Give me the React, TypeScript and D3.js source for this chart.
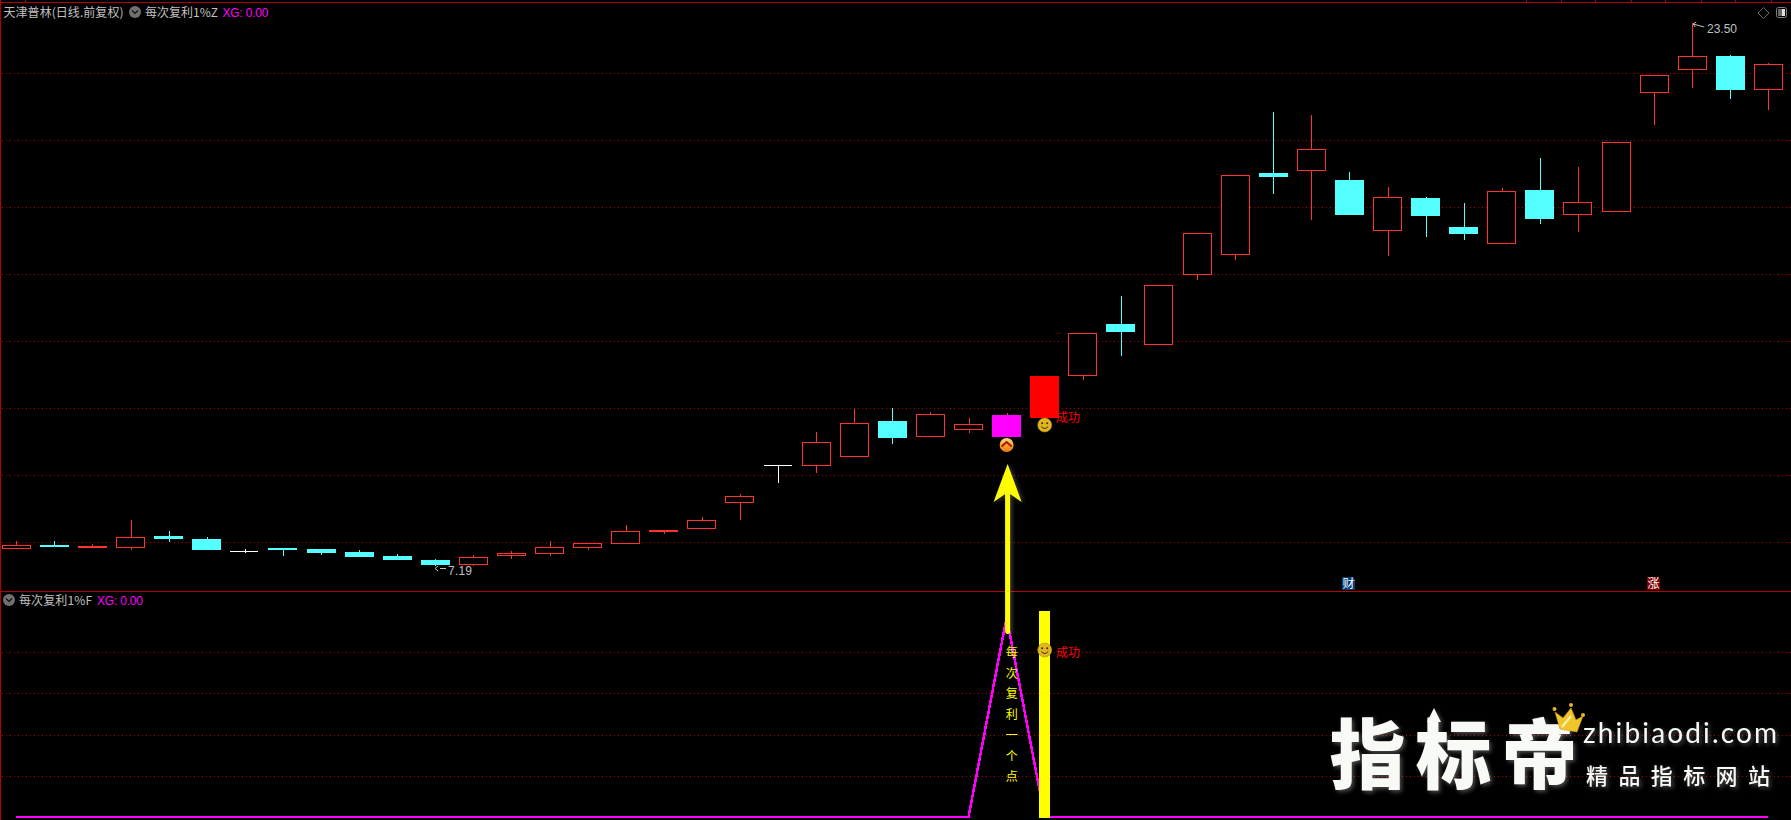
import React from "react";
import * as d3 from "d3";

const W = 1791;
const H = 820;
const CJK = '"Noto Sans CJK SC", "Noto Sans", sans-serif';
const LATIN = '"Liberation Sans", sans-serif';

// Daily bars
const opens = [7.70,7.81,7.72,7.73,8.08,7.99,7.62,7.72,7.69,7.60,7.48,7.36,7.20,7.48,7.55,7.73,7.85,8.20,8.30,9.08,10.20,10.19,10.46,11.54,11.06,11.28,11.06,11.63,12.90,14.45,13.83,15.94,16.54,19.00,19.07,18.79,17.26,18.24,17.37,16.87,18.49,17.73,17.81,21.41,22.10,22.52,21.50];
const closes = [7.81,7.75,7.78,8.04,7.99,7.66,7.62,7.66,7.57,7.45,7.36,7.20,7.45,7.57,7.74,7.86,8.22,8.26,8.55,9.27,10.20,10.90,11.47,11.03,11.74,11.44,11.72,12.89,14.18,14.21,15.62,17.18,18.93,18.88,19.71,17.73,18.27,17.70,17.16,18.45,17.61,18.12,19.93,21.94,22.51,21.49,22.27];
const highs = [7.93,7.93,7.84,8.56,8.23,8.05,7.69,7.72,7.69,7.66,7.54,7.39,7.51,7.63,7.92,7.86,8.41,8.26,8.65,9.34,10.20,11.21,11.90,11.93,11.81,11.63,11.78,12.89,14.18,15.30,15.62,17.18,18.93,20.83,20.74,19.03,18.58,18.27,18.09,18.55,19.46,19.18,19.93,21.94,23.50,22.55,22.31];
const lows = [7.70,7.75,7.72,7.67,7.90,7.66,7.57,7.48,7.51,7.45,7.36,7.19,7.19,7.40,7.49,7.66,7.85,8.14,8.30,8.56,9.67,9.97,10.46,10.85,11.06,11.18,11.06,11.63,12.77,13.49,13.83,15.78,16.38,18.37,17.58,17.73,16.50,17.07,16.98,16.87,17.47,17.22,17.81,20.44,21.55,21.22,20.89];

const priceGrid = [22.0,19.99,17.97,15.96,13.94,11.93,9.92,7.9];
const indicatorGrid = [0.8,0.6,0.4,0.2];

// Lower panel series
const signalIndex = 26;
const successIndex = 27;
const signalPeak = 0.97;
const barValue = 1;
const caption = ["每","次","复","利","一","个","点"];
const badges = [{ i: 35, t: "财", c: "#003c78" }, { i: 43, t: "涨", c: "#800000" }];
const topTicks = [25,1526,1561,1595,1631,1665,1701,1735,1771];

const count = opens.length;
const x = d3.scaleLinear().domain([0, count - 1]).range([16.3, 1768.4]);
const y = d3.scaleLinear().domain([7.19, 23.5]).range([565.5, 23.3]);
const yi = d3.scaleLinear().domain([0, 1]).range([817, 611]);

const RED = "#ff3232";
const CYAN = "#54ffff";
const GRID = "#b00000";
const BORDER = "#b40000";
const GRAY = "#c0c0c0";
const snap = (v: number) => Math.round(v) + 0.5;

const indicator = Array.from({ length: count }, (_, i) => (i === signalIndex ? signalPeak : 0));
const magentaLine = d3.line<number>().x((_, i) => x(i)).y((d) => yi(d));

function Candle({ i }: { i: number }) {
  const o = opens[i], c = closes[i], h = highs[i], l = lows[i];
  const cx = x(i);
  const wx = snap(cx);
  const top = Math.round(y(Math.max(o, c)));
  const bot = Math.round(y(Math.min(o, c)));
  const left = Math.round(cx - 14.5);
  let color = c > o ? RED : CYAN;
  if (o === c) color = "#ffffff";
  const wick = (
    <line x1={wx} x2={wx} y1={Math.round(y(h))} y2={Math.round(y(l))} stroke={color} strokeWidth={1} />
  );
  if (i === signalIndex || i === successIndex) {
    return (
      <g>
        {wick}
        <rect x={left} y={top} width={29} height={bot - top} fill={i === signalIndex ? "#ff00ff" : "#ff0000"} />
      </g>
    );
  }
  if (o === c) {
    return (
      <g>
        {wick}
        <line x1={left} x2={left + 28} y1={top + 0.5} y2={top + 0.5} stroke={color} />
      </g>
    );
  }
  if (c < o) {
    return (
      <g>
        {wick}
        <rect x={left} y={top} width={29} height={Math.max(bot - top, 2)} fill={color} />
      </g>
    );
  }
  return (
    <g>
      {wick}
      <rect x={left + 0.5} y={top + 0.5} width={28} height={Math.max(bot - top - 1, 1)} fill="#000" stroke={color} />
    </g>
  );
}

function Smile({ cx, cy }: { cx: number; cy: number }) {
  return (
    <g>
      <circle cx={cx} cy={cy} r={7} fill="#e3b61e" stroke="#a98a20" strokeWidth={0.6} />
      <circle cx={cx - 2.5} cy={cy - 1.8} r={1} fill="#33290a" />
      <circle cx={cx + 2.5} cy={cy - 1.8} r={1} fill="#33290a" />
      <path d={`M${cx - 3.5},${cy + 1.5} Q${cx},${cy + 5.5} ${cx + 3.5},${cy + 1.5}`} fill="none" stroke="#33290a" strokeWidth={1} />
    </g>
  );
}

function Chevron({ cx, cy }: { cx: number; cy: number }) {
  return (
    <g>
      <defs>
        <linearGradient id="chevFill" x1="0" x2="0" y1="0" y2="1">
          <stop offset="0" stopColor="#f7e08a" />
          <stop offset="0.5" stopColor="#f5a623" />
          <stop offset="1" stopColor="#ee7a1a" />
        </linearGradient>
      </defs>
      <circle cx={cx} cy={cy} r={7} fill="url(#chevFill)" />
      <path d={`M${cx - 5},${cy + 1.5} L${cx},${cy - 3} L${cx + 5},${cy + 1.5}`} fill="none" stroke="#b01010" strokeWidth={2} />
    </g>
  );
}

function MenuDot({ cx, cy }: { cx: number; cy: number }) {
  return (
    <g>
      <circle cx={cx} cy={cy} r={6} fill="#707070" />
      <path d={`M${cx - 3},${cy - 1.5} L${cx},${cy + 1.5} L${cx + 3},${cy - 1.5}`} fill="none" stroke="#101010" strokeWidth={1.2} />
    </g>
  );
}

function Label(p: { x: number; y: number; w?: number; fill: string; size?: number; font?: string; children: React.ReactNode }) {
  return (
    <text
      x={p.x}
      y={p.y}
      fill={p.fill}
      fontFamily={p.font ?? CJK}
      fontSize={p.size ?? 12}
      textLength={p.w}
      lengthAdjust={p.w ? "spacing" : undefined}
    >
      {p.children}
    </text>
  );
}

export default function App() {
  const ax = x(signalIndex) + 1;
  const sx = x(successIndex);
  const low = d3.min(lows) as number;
  const high = d3.max(highs) as number;
  const lowI = lows.indexOf(low);
  const highI = highs.indexOf(high);

  return (
    <svg
      width={W}
      height={H}
      viewBox={`0 0 ${W} ${H}`}
      style={{ position: "fixed", left: 0, top: 0, display: "block", background: "#000" }}
    >
      <defs>
        <filter id="wmGlow" x="-20%" y="-20%" width="140%" height="140%">
          <feGaussianBlur in="SourceAlpha" stdDeviation="2.2" result="b" />
          <feFlood floodColor="#ffffff" floodOpacity="0.3" />
          <feComposite in2="b" operator="in" result="g" />
          <feOffset in="g" dx="1.5" dy="2" result="o" />
          <feMerge>
            <feMergeNode in="o" />
            <feMergeNode in="SourceGraphic" />
          </feMerge>
        </filter>
        <filter id="arrowGlow" x="-60%" y="-5%" width="220%" height="110%">
          <feGaussianBlur in="SourceAlpha" stdDeviation="2" result="b" />
          <feFlood floodColor="#ffffff" floodOpacity="0.25" />
          <feComposite in2="b" operator="in" result="g" />
          <feOffset in="g" dx="2" dy="1" result="o" />
          <feMerge>
            <feMergeNode in="o" />
            <feMergeNode in="SourceGraphic" />
          </feMerge>
        </filter>
      </defs>

      <rect x={0} y={0} width={W} height={H} fill="#000" />

      {/* frame */}
      <g shapeRendering="crispEdges">
        <line x1={0} x2={W} y1={2.5} y2={2.5} stroke={BORDER} />
        <line x1={0.5} x2={0.5} y1={0} y2={H} stroke={BORDER} />
        <line x1={0} x2={W} y1={591.5} y2={591.5} stroke={BORDER} />
        {topTicks.map((t) => (
          <line key={t} x1={t + 0.5} x2={t + 0.5} y1={0} y2={2} stroke={BORDER} />
        ))}
        {priceGrid.map((v) => (
          <line key={v} x1={2} x2={W} y1={snap(y(v))} y2={snap(y(v))} stroke={GRID} strokeDasharray="1 3" />
        ))}
        {indicatorGrid.map((v) => (
          <line key={v} x1={2} x2={W} y1={snap(yi(v))} y2={snap(yi(v))} stroke={GRID} strokeDasharray="1 3" />
        ))}
      </g>

      {/* candles */}
      <g shapeRendering="crispEdges">
        {opens.map((_, i) => (
          <Candle key={i} i={i} />
        ))}
      </g>

      {/* extreme labels */}
      <g>
        <line x1={x(lowI) + 5} x2={446} y1={568.5} y2={568.5} stroke={GRAY} shapeRendering="crispEdges" />
        <path d="M438,566 L435,568.5 L438,571" fill="none" stroke={GRAY} />
        <Label x={448} y={574.5} w={24} fill={GRAY} font={LATIN}>{low.toFixed(2)}</Label>
        <path d={`M${x(highI) + 1},24 L${x(highI) + 12},27`} fill="none" stroke={GRAY} />
        <path d={`M${x(highI) + 4},22 L${x(highI) + 1},24 L${x(highI) + 3},27`} fill="none" stroke={GRAY} />
        <Label x={1707} y={32.5} w={30} fill={GRAY} font={LATIN}>{high.toFixed(2)}</Label>
      </g>

      {/* header upper */}
      <Label x={3.5} y={16.5} w={120} fill={GRAY}>天津普林(日线.前复权)</Label>
      <MenuDot cx={135} cy={12} />
      <Label x={145} y={16.5} w={73} fill={GRAY}>每次复利1%Z</Label>
      <Label x={222.5} y={16.5} w={46} fill="#ff00ff" font={LATIN}>XG: 0.00</Label>

      {/* header lower */}
      <MenuDot cx={9} cy={600} />
      <Label x={19} y={604.5} w={73} fill={GRAY}>每次复利1%F</Label>
      <Label x={97} y={604.5} w={46} fill="#ff00ff" font={LATIN}>XG: 0.00</Label>

      {/* top-right icons */}
      <path d="M1763.5,7.5 L1769,13 L1763.5,18.5 L1758,13 Z" fill="none" stroke="#6a6a6a" />
      <rect x={1776.5} y={7.5} width={10} height={10} rx={2} fill="#000" stroke="#808080" />
      <rect x={1778} y={9} width={4} height={7} fill="#6a6a6a" />
      <rect x={1782} y={9} width={3} height={7} fill="#e0e0e0" />

      {/* news badges */}
      {badges.map((b) => {
        const bx = Math.round(x(b.i)) - 7;
        return (
          <g key={b.t}>
            <path d={`M${bx},577 H${bx + 11} L${bx + 13},579 V590 H${bx} Z`} fill={b.c} />
            <text x={bx + 6.5} y={588} textAnchor="middle" fill="#fff" fontFamily={CJK} fontSize={12}>
              {b.t}
            </text>
          </g>
        );
      })}

      {/* markers at the signal bars */}
      <Chevron cx={x(signalIndex)} cy={445} />
      <Smile cx={sx} cy={425} />
      <Label x={1056} y={421.5} fill="#ff0000">成功</Label>

      {/* indicator */}
      <g shapeRendering="crispEdges">
        <path d={magentaLine(indicator) ?? ""} fill="none" stroke="#ff00ff" strokeWidth={2.5} />
        <rect
          x={Math.round(sx) - 6}
          y={yi(barValue)}
          width={11}
          height={yi(0) - yi(barValue) + 1}
          fill="#ffff00"
        />
      </g>
      <Smile cx={sx} cy={650} />
      <Label x={1056} y={656.5} fill="#ff0000">成功</Label>

      {caption.map((ch, i) => (
        <text
          key={ch}
          x={1011.7}
          y={656.8 + i * 20.75}
          textAnchor="middle"
          fill="#ffff00"
          fontFamily={CJK}
          fontSize={12}
        >
          {ch}
        </text>
      ))}

      {/* yellow arrow */}
      <path
        filter="url(#arrowGlow)"
        fill="#ffff00"
        d={`M${ax},464 L${ax + 14},502 L${ax + 2.5},494 V631 Q${ax + 2.5},634 ${ax},634 Q${ax - 2.5},634 ${ax - 2.5},631 V494 L${ax - 14},502 Z`}
      />

      {/* watermark */}
      <g filter="url(#wmGlow)" fill="#f8faf6">
        {["指", "标", "帝"].map((ch, i) => (
          <text
            key={ch}
            x={1367.5 + i * 86}
            y={783}
            textAnchor="middle"
            fontFamily={CJK}
            fontWeight={900}
            fontSize={76}
          >
            {ch}
          </text>
        ))}
        <path d="M1434,708 L1441,722 H1437 V732 H1431 V722 H1427 Z" />
        <text x={1583} y={743} fontFamily="Lato, sans-serif" fontSize={28} textLength={194} lengthAdjust="spacing">
          zhibiaodi.com
        </text>
        <text x={1586} y={784} fontFamily={CJK} fontWeight={500} fontSize={22} letterSpacing={10.4}>
          精品指标网站
        </text>
      </g>

      {/* crown */}
      <g>
        <path d="M1555,712 L1563,718 L1571,708 L1576,720 L1583,716 L1577,732 L1560,729 Z" fill="#f0c52c" stroke="#d09a10" strokeWidth={0.6} />
        <path d="M1562,727 L1571,716" stroke="#fff2a8" strokeWidth={2} fill="none" />
        <circle cx={1554.5} cy={709} r={2} fill="#e8b524" />
        <circle cx={1571} cy={705} r={2} fill="#e8b524" />
        <circle cx={1583} cy={715} r={2} fill="#e8b524" />
      </g>
    </svg>
  );
}
